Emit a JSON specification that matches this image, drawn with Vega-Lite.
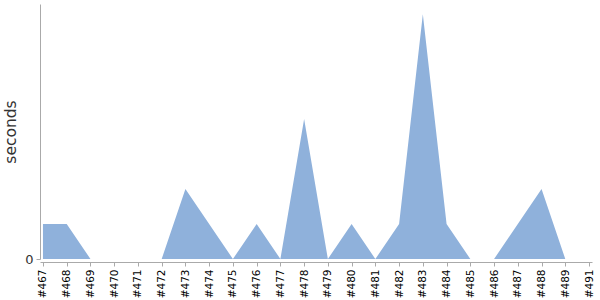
{
  "$schema": "https://vega.github.io/schema/vega-lite/v6.json",
  "autosize": {"type": "none"},
  "padding": {"left": 40, "top": 4, "right": 8, "bottom": 41},
  "width": 552,
  "height": 255,
  "data": {"values": [
    {"build": "#467", "seconds": 1},
    {"build": "#468", "seconds": 1},
    {"build": "#469", "seconds": 0},
    {"build": "#470", "seconds": 0},
    {"build": "#471", "seconds": 0},
    {"build": "#472", "seconds": 0},
    {"build": "#473", "seconds": 2},
    {"build": "#474", "seconds": 1},
    {"build": "#475", "seconds": 0},
    {"build": "#476", "seconds": 1},
    {"build": "#477", "seconds": 0},
    {"build": "#478", "seconds": 4},
    {"build": "#479", "seconds": 0},
    {"build": "#480", "seconds": 1},
    {"build": "#481", "seconds": 0},
    {"build": "#482", "seconds": 1},
    {"build": "#483", "seconds": 7},
    {"build": "#484", "seconds": 1},
    {"build": "#485", "seconds": 0},
    {"build": "#486", "seconds": 0},
    {"build": "#487", "seconds": 1},
    {"build": "#488", "seconds": 2},
    {"build": "#489", "seconds": 0},
    {"build": "#491", "seconds": 0}
  ]},
  "config": {
    "view": {"stroke": null},
    "font": "DejaVu Sans"
  },
  "mark": {"type": "area", "color": "#8FB1DB", "opacity": 1, "interpolate": "linear"},
  "encoding": {
    "x": {
      "field": "build", "type": "ordinal", "sort": null,
      "scale": {"type": "point", "padding": 0.125},
      "axis": {
        "title": null, "labelAngle": 270, "labelFontSize": 10.5, "labelColor": "#000000",
        "labelPadding": 3, "domainColor": "#aaaaaa", "tickColor": "#aaaaaa", "tickSize": 4,
        "offset": 3, "labelFont": "DejaVu Sans"
      }
    },
    "y": {
      "field": "seconds", "type": "quantitative",
      "scale": {"domain": [0, 7.29], "nice": false, "zero": true},
      "axis": {
        "title": "seconds", "titleFontSize": 15.5, "titleFontWeight": "normal", "titleColor": "#333333",
        "titlePadding": 6, "values": [0], "grid": false, "labelFontSize": 13, "labelColor": "#333333",
        "labelPadding": 3, "domainColor": "#aaaaaa", "tickColor": "#aaaaaa", "tickSize": 4, "labelFont": "DejaVu Sans", "titleFont": "DejaVu Sans"
      }
    }
  }
}
